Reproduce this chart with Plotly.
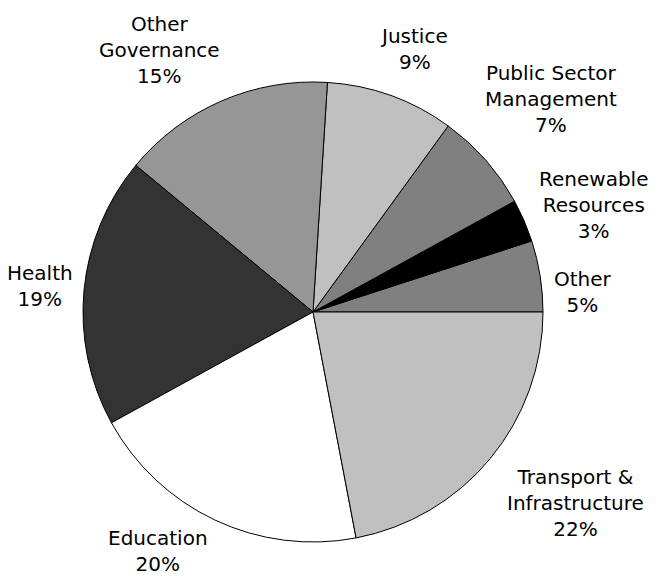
import math
import plotly.graph_objects as go

categories = ["Other", "Renewable<br>Resources", "Public Sector<br>Management", "Justice",
              "Other<br>Governance", "Health", "Education", "Transport &<br>Infrastructure"]
shares = [5, 3, 7, 9, 15, 19, 20, 22]
colors = ["#808080", "#000000", "#808080", "#C0C0C0", "#969696", "#333333", "#FFFFFF", "#C0C0C0"]

# layout-only label nudges (degrees) to mimic the original's collision-avoidance placement
label_nudge_deg = [-4.7, -2.5, 0.5, -1.2, 7.0, 0.0, -7.0, 3.6]

PAGE_MARGIN = 8               # default body margin of the html page
W, H = 661 - PAGE_MARGIN, 580 - PAGE_MARGIN
cx, cy, r = 313 - PAGE_MARGIN, 312 - PAGE_MARGIN, 230
FONT = "DejaVu Sans, Verdana, sans-serif"
FS = 20

fig = go.Figure(go.Pie(
    labels=categories,
    values=shares,
    sort=False,
    direction="counterclockwise",
    rotation=72,
    marker=dict(colors=colors, line=dict(color="#000000", width=1)),
    textinfo="none",
    hoverinfo="label+percent",
    automargin=False,
    showlegend=False,
    domain=dict(x=[(cx - r) / W, (cx + r) / W], y=[(H - cy - r) / H, (H - cy + r) / H]),
))

# outside labels placed from each slice's middle angle (counterclockwise from 3 o'clock)
total = sum(shares)
cum = 0.0
gap = 14
for lab, v, nudge in zip(categories, shares, label_nudge_deg):
    mid = (cum + v / 2) / total * 2 * math.pi + math.radians(nudge)
    cum += v
    pct = f"{round(100 * v / total)}%"
    lines = lab.split("<br>") + [pct]
    nch = max(len(s) for s in lines)
    w = nch * 0.5 * FS
    h = len(lines) * 1.35 * FS
    ux, uy = math.cos(mid), math.sin(mid)
    support = abs(ux) * w / 2 + abs(uy) * h / 2
    d = r + gap + support
    px = cx + d * ux
    py = cy - d * uy
    half_w = nch * 0.56 * FS / 2 + 2
    px = min(max(px, half_w - PAGE_MARGIN + 4), W - half_w)
    py = min(max(py, h / 2), H - h / 2 - 2)
    fig.add_annotation(
        x=px / W, y=1 - py / H, xref="paper", yref="paper",
        text=f"{lab}<br>{pct}", showarrow=False,
        xanchor="center", yanchor="middle", align="center",
        font=dict(family=FONT, size=FS, color="#000000"),
    )

fig.update_layout(
    width=W, height=H,
    margin=dict(l=0, r=0, t=0, b=0),
    paper_bgcolor="white",
    plot_bgcolor="white",
)

fig.write_html("out.html")
